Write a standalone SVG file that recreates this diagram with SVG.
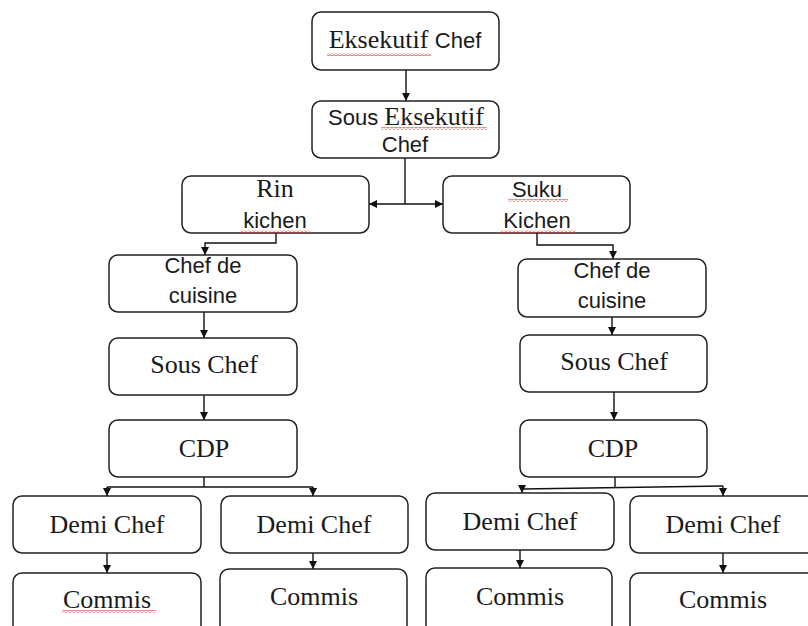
<svg xmlns="http://www.w3.org/2000/svg" width="808" height="626" viewBox="0 0 808 626">
<style>
.box{fill:#fff;stroke:#222;stroke-width:1.5}
.sr{font-family:"Liberation Serif","Times New Roman",serif;font-size:26px;fill:#1a1a1a}
.ss{font-family:"Liberation Sans",Arial,sans-serif;font-size:22px;fill:#1a1a1a}
text{text-anchor:middle}
.c{fill:none;stroke:#111;stroke-width:1.4}
.sq{fill:url(#wave)}
</style>
<defs>
<marker id="ah" viewBox="0 0 10 10" refX="10" refY="5" markerWidth="8" markerHeight="8" markerUnits="userSpaceOnUse" orient="auto">
<path d="M0,0 L10,5 L0,10 Z" fill="#111"/>
</marker>
<pattern id="wave" width="4" height="3" patternUnits="userSpaceOnUse">
<path d="M0,2.2 L2,0.6 L4,2.2" fill="none" stroke="#e0302a" stroke-width="0.9"/>
</pattern>
</defs>
<rect width="808" height="626" fill="#fff"/>

<g id="connectors">
<path class="c" d="M406,70 V101" marker-end="url(#ah)"/>
<path class="c" d="M405,158 V204"/>
<path class="c" d="M405,204 H369" marker-end="url(#ah)"/>
<path class="c" d="M405,204 H443" marker-end="url(#ah)"/>
<path class="c" d="M276,233 V243 H205 V255" marker-end="url(#ah)"/>
<path class="c" d="M537,233 V245 H613 V259" marker-end="url(#ah)"/>
<path class="c" d="M204,312 V338" marker-end="url(#ah)"/>
<path class="c" d="M204,395 V420" marker-end="url(#ah)"/>
<path class="c" d="M204,477 V487"/>
<path class="c" d="M107,487 H313"/>
<path class="c" d="M107,487 V496" marker-end="url(#ah)"/>
<path class="c" d="M313,487 V496" marker-end="url(#ah)"/>
<path class="c" d="M107,553 V573" marker-end="url(#ah)"/>
<path class="c" d="M313,553 V569" marker-end="url(#ah)"/>
<path class="c" d="M612,317 V335" marker-end="url(#ah)"/>
<path class="c" d="M614,392 V420" marker-end="url(#ah)"/>
<path class="c" d="M615,477 V487"/>
<path class="c" d="M522,489 L723,486"/>
<path class="c" d="M522,487 V493" marker-end="url(#ah)"/>
<path class="c" d="M723,486 V496" marker-end="url(#ah)"/>
<path class="c" d="M520,550 V568" marker-end="url(#ah)"/>
<path class="c" d="M723,553 V573" marker-end="url(#ah)"/>
</g>

<g id="eksekutif-chef">
<rect class="box" x="312" y="12" width="187" height="58" rx="9"/>
<text x="405" y="48"><tspan class="sr">Eksekutif </tspan><tspan class="ss">Chef</tspan></text>
<rect class="sq" x="327" y="53" width="104" height="3"/>
</g>

<g id="sous-eksekutif-chef">
<rect class="box" x="312" y="101" width="187" height="57" rx="9"/>
<text x="406" y="125"><tspan class="ss">Sous </tspan><tspan class="sr">Eksekutif</tspan></text>
<text class="ss" x="405" y="152">Chef</text>
<rect class="sq" x="381" y="127" width="106" height="3"/>
</g>

<g id="rin-kichen">
<rect class="box" x="182" y="176" width="187" height="57" rx="9"/>
<text class="sr" x="275" y="197">Rin</text>
<text class="ss" x="275" y="228">kichen</text>
<rect class="sq" x="240" y="230" width="70" height="3"/>
</g>

<g id="suku-kichen">
<rect class="box" x="443" y="176" width="187" height="57" rx="9"/>
<text class="ss" x="537" y="197">Suku</text>
<text class="ss" x="537" y="228">Kichen</text>
<rect class="sq" x="508" y="199" width="60" height="3"/>
<rect class="sq" x="500" y="230" width="76" height="3"/>
</g>

<g id="chef-de-cuisine-left">
<rect class="box" x="109" y="255" width="188" height="57" rx="9"/>
<text class="ss" x="203" y="273">Chef de</text>
<text class="ss" x="203" y="303">cuisine</text>
</g>

<g id="sous-chef-left">
<rect class="box" x="109" y="338" width="188" height="57" rx="9"/>
<text class="sr" x="204" y="373">Sous Chef</text>
</g>

<g id="cdp-left">
<rect class="box" x="109" y="420" width="188" height="57" rx="9"/>
<text class="sr" x="204" y="457">CDP</text>
</g>

<g id="demi-chef-1">
<rect class="box" x="13" y="496" width="188" height="57" rx="9"/>
<text class="sr" x="107" y="533">Demi Chef</text>
</g>

<g id="demi-chef-2">
<rect class="box" x="221" y="496" width="187" height="57" rx="9"/>
<text class="sr" x="314" y="533">Demi Chef</text>
</g>

<g id="commis-1">
<rect class="box" x="13" y="573" width="188" height="70" rx="9"/>
<text class="sr" x="107" y="608">Commis</text>
<rect class="sq" x="62" y="610" width="94" height="3"/>
</g>

<g id="commis-2">
<rect class="box" x="220" y="569" width="187" height="70" rx="9"/>
<text class="sr" x="314" y="605">Commis</text>
</g>

<g id="chef-de-cuisine-right">
<rect class="box" x="518" y="259" width="188" height="58" rx="9"/>
<text class="ss" x="612" y="278">Chef de</text>
<text class="ss" x="612" y="308">cuisine</text>
</g>

<g id="sous-chef-right">
<rect class="box" x="520" y="335" width="187" height="57" rx="9"/>
<text class="sr" x="614" y="370">Sous Chef</text>
</g>

<g id="cdp-right">
<rect class="box" x="520" y="420" width="187" height="57" rx="9"/>
<text class="sr" x="613" y="457">CDP</text>
</g>

<g id="demi-chef-3">
<rect class="box" x="426" y="493" width="188" height="57" rx="9"/>
<text class="sr" x="520" y="530">Demi Chef</text>
</g>

<g id="demi-chef-4">
<rect class="box" x="630" y="496" width="190" height="57" rx="9"/>
<text class="sr" x="723" y="533">Demi Chef</text>
</g>

<g id="commis-3">
<rect class="box" x="426" y="568" width="186" height="70" rx="9"/>
<text class="sr" x="520" y="605">Commis</text>
</g>

<g id="commis-4">
<rect class="box" x="630" y="573" width="190" height="70" rx="9"/>
<text class="sr" x="723" y="608">Commis</text>
</g>
</svg>
